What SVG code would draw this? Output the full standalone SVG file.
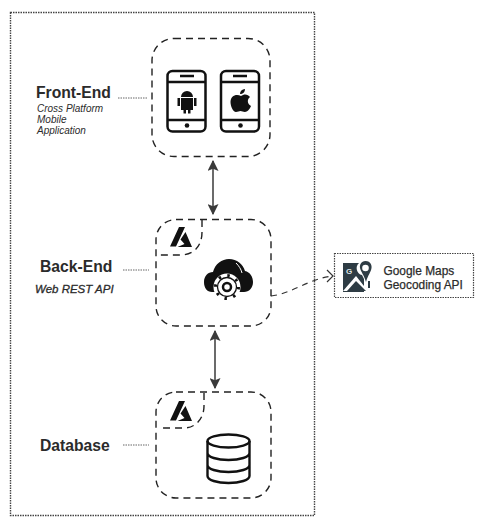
<svg xmlns="http://www.w3.org/2000/svg" width="493" height="525" viewBox="0 0 493 525">
<style>
text{font-family:"Liberation Sans",Arial,sans-serif;fill:#2b2b2b}
.h{font-size:15.700px;font-weight:bold}
.s{font-size:10px;font-style:italic}
.g{font-size:11.900px;stroke:#2b2b2b;stroke-width:.25}
.box{fill:none;stroke:#222;stroke-width:1.4;stroke-dasharray:7 5}
.dot{fill:none;stroke:#666;stroke-width:1;stroke-dasharray:1.5 1}
.ph{fill:none;stroke:#111;stroke-width:2.500}
.arrow{stroke:#3a3a3a;stroke-width:1.500;fill:none;marker-start:url(#a);marker-end:url(#a)}
</style>
<defs>
<marker id="a" viewBox="0 0 10 10" refX="9" refY="5" markerWidth="11" markerHeight="11" markerUnits="userSpaceOnUse" orient="auto-start-reverse"><path d="M0 0L10 5L0 10L2 5Z" fill="#3a3a3a"/></marker>
<path id="az" d="M9 0L15 0L6 19.500L0 19.500ZM15.500 5L22 20L7.500 20L14.500 17L10.500 12.500Z" fill="#111"/>
</defs>
<rect width="493" height="525" fill="#fff"/>
<rect id="frame" x="10.500" y="12.500" width="304" height="503" fill="none" stroke="#444" stroke-width="1.400" stroke-dasharray="1.500 1"/>
<g id="connectors">
<line class="arrow" x1="213" y1="161" x2="213" y2="214"/>
<line class="arrow" x1="215" y1="331" x2="215" y2="388"/>
<path d="M271 296L277 295C295 291 310 279 332 276" fill="none" stroke="#333" stroke-width="1.200" stroke-dasharray="6 5"/>
<path d="M327 270L333 276L327 282" fill="none" stroke="#333" stroke-width="1.200"/>
<line class="dot" x1="118" y1="98" x2="147" y2="98"/>
<line class="dot" x1="123" y1="270" x2="149" y2="270"/>
<line class="dot" x1="123" y1="445" x2="149" y2="445"/>
</g>
<g id="front-end">
<rect class="box" x="152" y="38.500" width="118" height="118" rx="22"/>
<text class="h" x="36" y="98">Front-End</text>
<text class="s" x="37" y="112">Cross Platform</text>
<text class="s" x="37" y="123">Mobile</text>
<text class="s" x="37" y="134">Application</text>
<g id="phone-android">
<rect class="ph" x="167.500" y="71" width="38" height="60.500" rx="5"/>
<path class="ph" d="M167.500 82H205.500M167.500 120H205.500M180 76H194"/>
<circle cx="187" cy="125.500" r="2.300" fill="#111"/>
<path fill="#111" d="M181 97a6 6 0 0 1 12 0ZM181 98h12v12h-2.500v3.500h-2.500v-3.500h-2v3.500h-2.500v-3.500h-2.500ZM177.500 98h2.500v8h-2.500ZM194 98h2.500v8h-2.500Z"/>
</g>
<g id="phone-apple">
<rect class="ph" x="221" y="71" width="38" height="60.500" rx="5"/>
<path class="ph" d="M221 82H259M221 120H259M233 76H247"/>
<circle cx="240.500" cy="125.500" r="2.300" fill="#111"/>
<path fill="#111" d="M241 96C244 93.500 248 94 250 97C247 99 247 104 251 106C250 109 247 112 245 112C243 112 242 111 240.500 111C239 111 238 112 236 112C233 112 230.500 106 230.500 102C230.500 96 236 93.500 241 96ZM240 94C240 91 242 89.500 245 89C245 92 243 94 240 94Z"/>
</g>
</g>
<g id="back-end">
<rect class="box" x="156" y="219.500" width="115" height="106.500" rx="20"/>
<path class="box" d="M202 220V232C202 246 194 255 180 255H156"/>
<use href="#az" x="170" y="227"/>
<text class="h" x="40" y="272">Back-End</text>
<text class="s" x="35" y="293" style="font-size:11.500px;stroke:#2b2b2b;stroke-width:.3">Web REST API</text>
<g id="cloud-gear">
<path fill="#111" d="M212 292C207 292 204 288 204 282C204 276 208 272 213 272C215 264 222 259 229 259C237 259 243 264 245 271C250 272 253 277 253 282C253 288 249 292 244 292Z"/>
<path d="M236 263C239 266 241 269 242 273" stroke="#fff" stroke-width="1" fill="none"/>
<circle cx="227" cy="287" r="13.500" fill="#fff"/>
<circle cx="227" cy="287" r="9.500" fill="none" stroke="#111" stroke-width="1.300"/>
<circle cx="227" cy="287" r="11.500" fill="none" stroke="#111" stroke-width="3" stroke-dasharray="2.500 6.530"/>
<circle cx="227" cy="287" r="4" fill="none" stroke="#111" stroke-width="2.500"/>
</g>
</g>
<g id="database">
<rect class="box" x="156" y="392" width="115" height="106" rx="20"/>
<path class="box" d="M204 393V406C204 418 196 428 184 428H162"/>
<use href="#az" x="170" y="401"/>
<text class="h" x="40" y="451">Database</text>
<g id="db-icon" fill="none" stroke="#111" stroke-width="2.400">
<ellipse cx="228.500" cy="441" rx="21" ry="6.500"/>
<path d="M207.500 441V476C207.500 480 217 483 228.500 483C240 483 249.500 480 249.500 476V441M207.500 453C207.500 457 217 460 228.500 460C240 460 249.500 457 249.500 453M207.500 465C207.500 469 217 472 228.500 472C240 472 249.500 469 249.500 465"/>
</g>
</g>
<g id="google-maps">
<rect x="334.500" y="253.500" width="139" height="44" fill="none" stroke="#444" stroke-width="1.200" stroke-dasharray="1.500 1"/>
<path fill="#2e3c44" d="M343 263H359A7 7 0 0 0 362 275L364 279V292H343Z"/>
<path fill="#fff" d="M343 291L356 276L368 291Z"/>
<path fill="#2e3c44" d="M347 291L356 281L366 291Z"/>
<path fill="#2e3c44" d="M365.500 261C371 261 372 266 371.500 268C371 272 368 275 366 282C364 275 361 272 360 268C359.500 265 361 261 365.500 261Z"/>
<circle cx="365.500" cy="268" r="3.300" fill="#fff"/>
<rect x="368" y="281" width="2" height="7" fill="#2e3c44"/>
<text x="346" y="274" style="font-size:8px;font-weight:bold;fill:#dfe4e6">G</text>
<text class="g" x="383.500" y="275">Google Maps</text>
<text class="g" x="383.500" y="288.500">Geocoding API</text>
</g>
</svg>
